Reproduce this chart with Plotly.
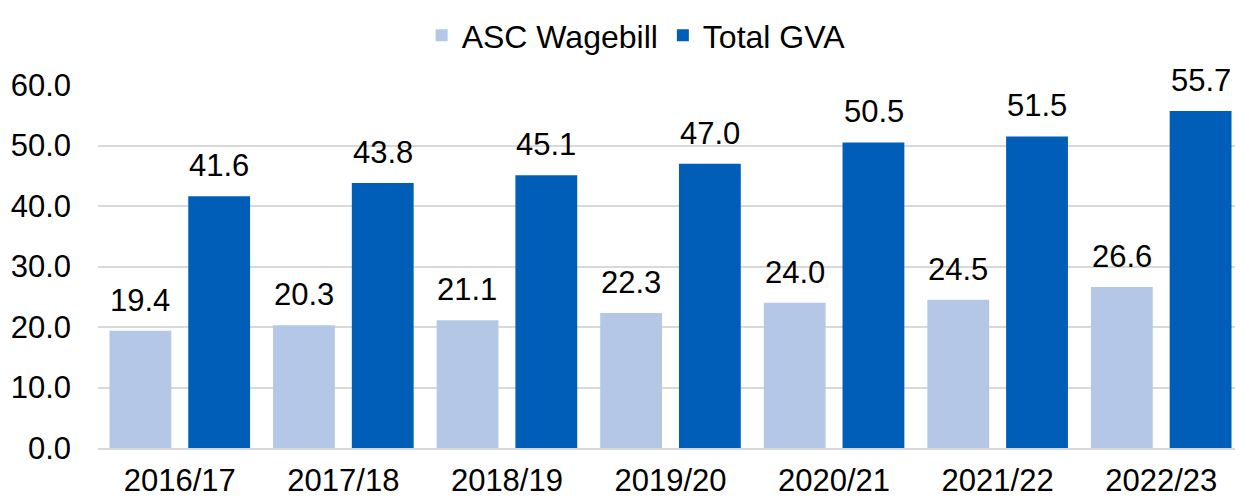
import plotly.graph_objects as go

years = ["2016/17", "2017/18", "2018/19", "2019/20", "2020/21", "2021/22", "2022/23"]
asc_wagebill = [19.4, 20.3, 21.1, 22.3, 24.0, 24.5, 26.6]
total_gva = [41.6, 43.8, 45.1, 47.0, 50.5, 51.5, 55.7]
y_ticks = [0, 10, 20, 30, 40, 50, 60]

LIGHT = "#B4C7E7"
DARK = "#005EB8"
FONT = "Liberation Sans, Arial, sans-serif"

fig = go.Figure()
fig.add_trace(go.Bar(name="ASC Wagebill", x=years, y=asc_wagebill, marker_color=LIGHT,
                     marker_line_width=0))
fig.add_trace(go.Bar(name="Total GVA", x=years, y=total_gva, marker_color=DARK,
                     marker_line_width=0))

annotations = []
for series, shift in ((asc_wagebill, -39.5), (total_gva, 39.5)):
    for yr, v in zip(years, series):
        annotations.append(dict(x=yr, y=v, xref="x", yref="y", text=f"{v:.1f}",
                                showarrow=False, xshift=shift, yanchor="bottom", yshift=11,
                                font=dict(size=31, color="#000000", family=FONT)))

fig.update_layout(
    width=1235, height=492,
    margin=dict(l=90, r=0, t=77, b=52),
    paper_bgcolor="white", plot_bgcolor="white",
    barmode="group", bargap=0.037, bargroupgap=0.215,
    font=dict(family=FONT, size=31, color="#000000"),
    legend=dict(orientation="h", x=0.47, xanchor="center", xref="paper",
                y=1.0, yref="container", yanchor="top",
                font=dict(size=32), itemwidth=30, traceorder="normal"),
    annotations=annotations,
    xaxis=dict(showgrid=False, showline=True, linecolor="#D9D9D9", linewidth=2,
               ticks="", tickfont=dict(size=31), ticklabelstandoff=4),
    yaxis=dict(range=[0, 60], tickvals=y_ticks, tickformat=".1f",
               showgrid=True, gridcolor="#D9D9D9", gridwidth=1.5,
               zeroline=False, showline=False, ticks="",
               ticklabelstandoff=26, tickfont=dict(size=31)),
)
fig.update_xaxes(automargin=False)
fig.update_yaxes(automargin=False)

fig.write_html("out.html")
